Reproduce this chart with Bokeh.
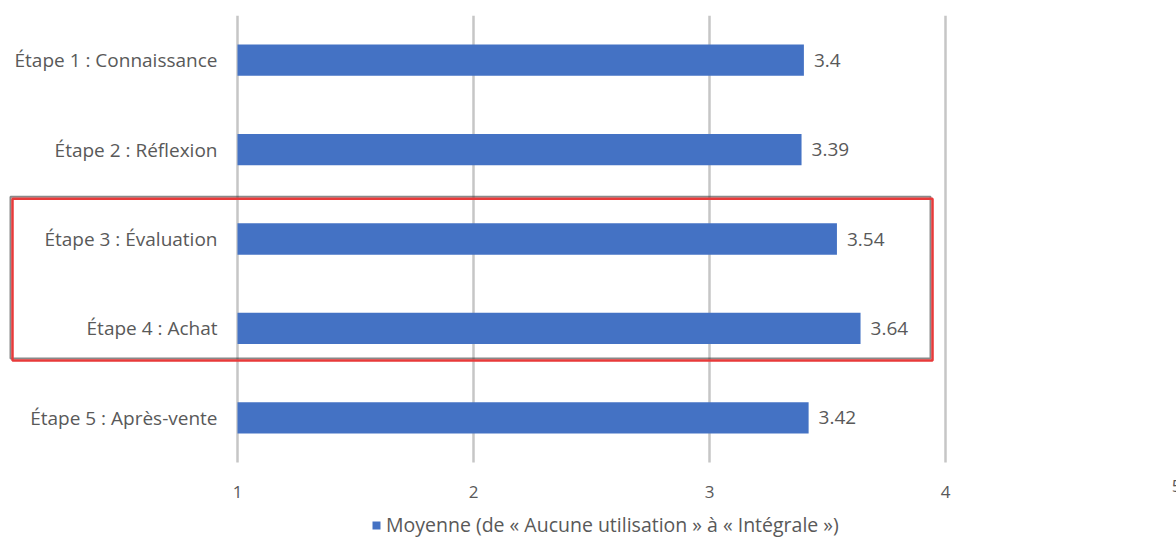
from bokeh.plotting import figure
from bokeh.models import (ColumnDataSource, Range1d, FixedTicker, Legend,
                          LegendItem, BoxAnnotation, Label, Grid)
from bokeh.embed import file_html
from bokeh.resources import INLINE
from bokeh.core.properties import value

# ---- data ----
stages = ["Étape 1 : Connaissance", "Étape 2 : Réflexion", "Étape 3 : Évaluation",
          "Étape 4 : Achat", "Étape 5 : Après-vente"]
moyennes = [3.4, 3.39, 3.54, 3.64, 3.42]
value_labels = ["3.4", "3.39", "3.54", "3.64", "3.42"]
x_ticks = [1, 2, 3, 4, 5]
axis_start = 1
series_name = "Moyenne (de « Aucune utilisation » à « Intégrale »)"
highlight = ["Étape 3 : Évaluation", "Étape 4 : Achat"]

FONT = "Open Sans"
GREY = "#595959"
BLUE = "#4472C4"

n = len(stages)
ypos = [n - i - 0.5 for i in range(n)]   # first stage on top
src = ColumnDataSource(dict(stage=stages, y=ypos, val=moyennes, lab=value_labels,
                            start=[axis_start] * n))

# scales: frame covers the whole canvas below a 15 px top margin
px_per_unit_x = 236.0
px_per_unit_y = 89.4
x_lo = axis_start - 237 / px_per_unit_x
x_hi = axis_start + (1176 - 237) / px_per_unit_x
y_hi = n
y_lo = n - 527 / px_per_unit_y

p = figure(width=1176, height=542, output_backend="svg", toolbar_location=None,
           x_range=Range1d(x_lo, x_hi), y_range=Range1d(y_lo, y_hi),
           min_border_left=0, min_border_right=0, min_border_top=15, min_border_bottom=0)
p.outline_line_color = None
p.background_fill_color = "white"
p.border_fill_color = "white"

# grid lines limited to the bar area
p.xgrid.visible = False
p.ygrid.visible = False
grid_ticks = x_ticks[:-1]
if "cross_bounds" in Grid.properties():
    g = Grid(dimension=0, ticker=FixedTicker(ticks=grid_ticks), cross_bounds=(0, n),
             grid_line_color="#c6c6c6", grid_line_width=2.5)
    p.add_layout(g)
else:
    p.segment(x0=grid_ticks, x1=grid_ticks, y0=[0] * len(grid_ticks), y1=[n] * len(grid_ticks),
              line_color="#c6c6c6", line_width=2.5)

bars = p.hbar(y="y", left="start", right="val", height=0.35, source=src,
              fill_color=BLUE, line_color=None)

# value labels
p.text(x="val", y="y", text="lab", source=src, x_offset=10,
       text_baseline="middle", text_align="left", text_color=GREY,
       text_font=value(FONT), text_font_size="19px")

# category labels (left of the axis start)
p.text(x="start", y="y", text="stage", source=src, x_offset=-20,
       text_baseline="middle", text_align="right", text_color=GREY,
       text_font=value(FONT), text_font_size="19px")

p.yaxis.visible = False

p.xaxis.fixed_location = 0
p.xaxis.ticker = FixedTicker(ticks=x_ticks)
p.xaxis.axis_line_color = None
p.xaxis.major_tick_line_color = None
p.xaxis.minor_tick_line_color = None
p.xaxis.major_label_standoff = 17
p.xaxis.major_label_text_color = GREY
p.xaxis.major_label_text_font = FONT
p.xaxis.major_label_text_font_size = "17px"

# partially visible "5" tick at the right edge
p.add_layout(Label(x=x_ticks[-1], y=0, text="5", x_offset=-5, y_offset=-17,
                   text_align="center", text_baseline="top", text_color=GREY,
                   text_font=FONT, text_font_size="17px"))

# highlight box around stages 3 and 4 (dark shadow + red frame)
i3 = ypos[stages.index(highlight[0])]
i4 = ypos[stages.index(highlight[1])]
box_left = axis_start - 225 / px_per_unit_x
box_right = 3.945
box_top = i3 + 0.45
box_bottom = i4 - 0.36
dx = 2 / px_per_unit_x
dy = 2 / px_per_unit_y
p.add_layout(BoxAnnotation(left=box_left - dx, right=box_right - dx,
                           top=box_top + dy, bottom=box_bottom + dy,
                           fill_color=None, fill_alpha=0, line_color="#3a3a3a",
                           line_alpha=0.6, line_width=2))
p.add_layout(BoxAnnotation(left=box_left, right=box_right, top=box_top, bottom=box_bottom,
                           fill_color=None, fill_alpha=0, line_color="#e83a3a",
                           line_alpha=1.0, line_width=2.5))

legend = Legend(items=[LegendItem(label=series_name, renderers=[bars])],
                location=(371, 4), orientation="horizontal",
                padding=0, margin=0, border_line_color=None, background_fill_alpha=0,
                glyph_width=10, glyph_height=10, label_standoff=5,
                label_text_color=GREY, label_text_font=FONT, label_text_font_size="19.5px")
p.add_layout(legend, "center")

open("out.html", "w").write(file_html(p, INLINE))
